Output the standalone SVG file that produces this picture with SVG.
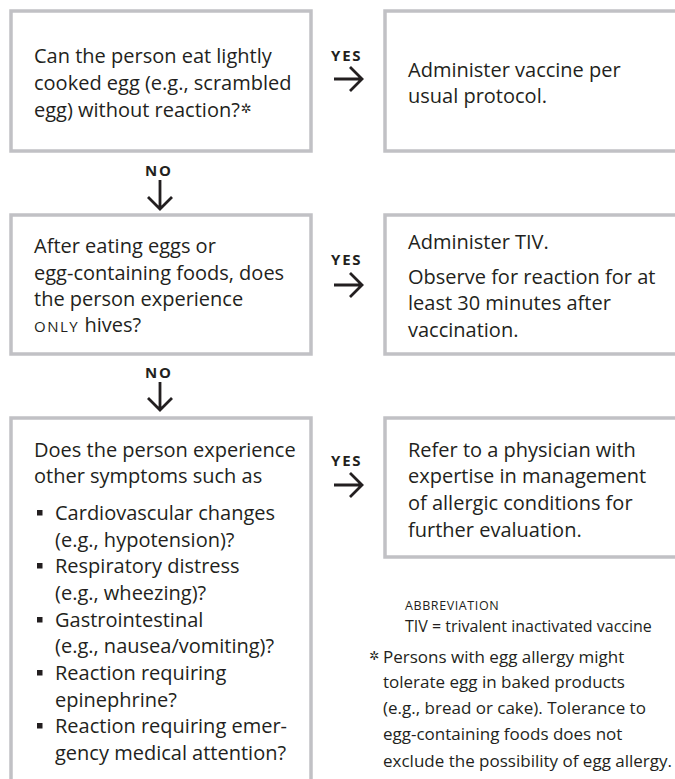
<svg xmlns="http://www.w3.org/2000/svg" width="675" height="779" viewBox="0 0 675 779">
<defs>
<style>
.box{fill:#fff;stroke:#c1c1c5;stroke-width:3.5}
.t{font-family:"Open Sans","Noto Sans","Liberation Sans",sans-serif;font-size:20px;fill:#231f20}
.lab{font-family:"Open Sans","Noto Sans","Liberation Sans",sans-serif;font-size:15px;font-weight:bold;letter-spacing:1.8px;fill:#231f20}
.sc{font-size:15px;letter-spacing:1.5px}
.arr{fill:none;stroke:#231f20;stroke-width:2.8;stroke-linecap:butt;stroke-linejoin:miter}
.bul{fill:#231f20}
.fn{font-family:"Open Sans","Noto Sans","Liberation Sans",sans-serif;font-size:17px;fill:#231f20}
.star{font-family:"DejaVu Sans",sans-serif;fill:#231f20}
</style>
</defs>
<rect width="675" height="779" fill="#fff"/>
<g id="q1">
<rect class="box" x="11" y="11" width="300" height="140"/>
<text class="t" x="34" y="63">Can the person eat lightly</text>
<text class="t" x="34" y="90">cooked egg (e.g., scrambled</text>
<text class="t" x="34" y="117">egg) without reaction?<tspan class="star" style="font-size:13px" dy="-4" dx="1">✲</tspan></text>
</g>
<g id="a1">
<rect class="box" x="385" y="11" width="300" height="140"/>
<text class="t" x="408" y="77">Administer vaccine per</text>
<text class="t" x="408" y="103">usual protocol.</text>
</g>
<g id="q2">
<rect class="box" x="11" y="215" width="300" height="139"/>
<text class="t" x="34" y="253">After eating eggs or</text>
<text class="t" x="34" y="280">egg-containing foods, does</text>
<text class="t" x="34" y="306">the person experience</text>
<text class="t" x="34" y="332"><tspan class="sc">ONLY</tspan> hives?</text>
</g>
<g id="a2">
<rect class="box" x="385" y="215" width="300" height="139"/>
<text class="t" x="408" y="249">Administer TIV.</text>
<text class="t" x="408" y="284">Observe for reaction for at</text>
<text class="t" x="408" y="310">least 30 minutes after</text>
<text class="t" x="408" y="337">vaccination.</text>
</g>
<g id="q3">
<rect class="box" x="11" y="418" width="300" height="400"/>
<text class="t" x="34" y="457">Does the person experience</text>
<text class="t" x="34" y="483">other symptoms such as</text>
<rect class="bul" x="37" y="510" width="5.5" height="5.5"/>
<text class="t" x="55" y="520">Cardiovascular changes</text>
<text class="t" x="55" y="547">(e.g., hypotension)?</text>
<rect class="bul" x="37" y="563" width="5.5" height="5.5"/>
<text class="t" x="55" y="573">Respiratory distress</text>
<text class="t" x="55" y="600">(e.g., wheezing)?</text>
<rect class="bul" x="37" y="617" width="5.5" height="5.5"/>
<text class="t" x="55" y="627">Gastrointestinal</text>
<text class="t" x="55" y="653">(e.g., nausea/vomiting)?</text>
<rect class="bul" x="37" y="670" width="5.5" height="5.5"/>
<text class="t" x="55" y="680">Reaction requiring</text>
<text class="t" x="55" y="707">epinephrine?</text>
<rect class="bul" x="37" y="723" width="5.5" height="5.5"/>
<text class="t" x="55" y="733">Reaction requiring emer-</text>
<text class="t" x="55" y="760">gency medical attention?</text>
</g>
<g id="a3">
<rect class="box" x="385" y="418" width="300" height="139"/>
<text class="t" x="408" y="457">Refer to a physician with</text>
<text class="t" x="408" y="483">expertise in management</text>
<text class="t" x="408" y="510">of allergic conditions for</text>
<text class="t" x="408" y="537">further evaluation.</text>
</g>
<g id="notes">
<text class="fn" x="405" y="610"><tspan style="font-size:12.5px;letter-spacing:0.6px">ABBREVIATION</tspan></text>
<text class="fn" x="405" y="632" style="font-size:16px">TIV = trivalent inactivated vaccine</text>
<text class="star" x="369" y="660" style="font-size:12px">✲</text>
<text class="fn" x="383" y="663">Persons with egg allergy might</text>
<text class="fn" x="383" y="688">tolerate egg in baked products</text>
<text class="fn" x="383" y="714">(e.g., bread or cake). Tolerance to</text>
<text class="fn" x="383" y="740">egg-containing foods does not</text>
<text class="fn" x="383" y="767">exclude the possibility of egg allergy.</text>
</g>
<g id="connectors">
<text class="lab" x="331" y="61">YES</text>
<path class="arr" d="M334 79H362M350 67L362 79L350 91"/>
<text class="lab" x="331" y="265">YES</text>
<path class="arr" d="M334 285H362M350 273L362 285L350 297"/>
<text class="lab" x="331" y="466">YES</text>
<path class="arr" d="M334 485H362M350 473L362 485L350 497"/>
<text class="lab" x="145" y="176">NO</text>
<path class="arr" d="M160 180V209M148 197L160 209L172 197"/>
<text class="lab" x="145" y="378">NO</text>
<path class="arr" d="M160 382V410M148 398L160 410L172 398"/>
</g>
</svg>
